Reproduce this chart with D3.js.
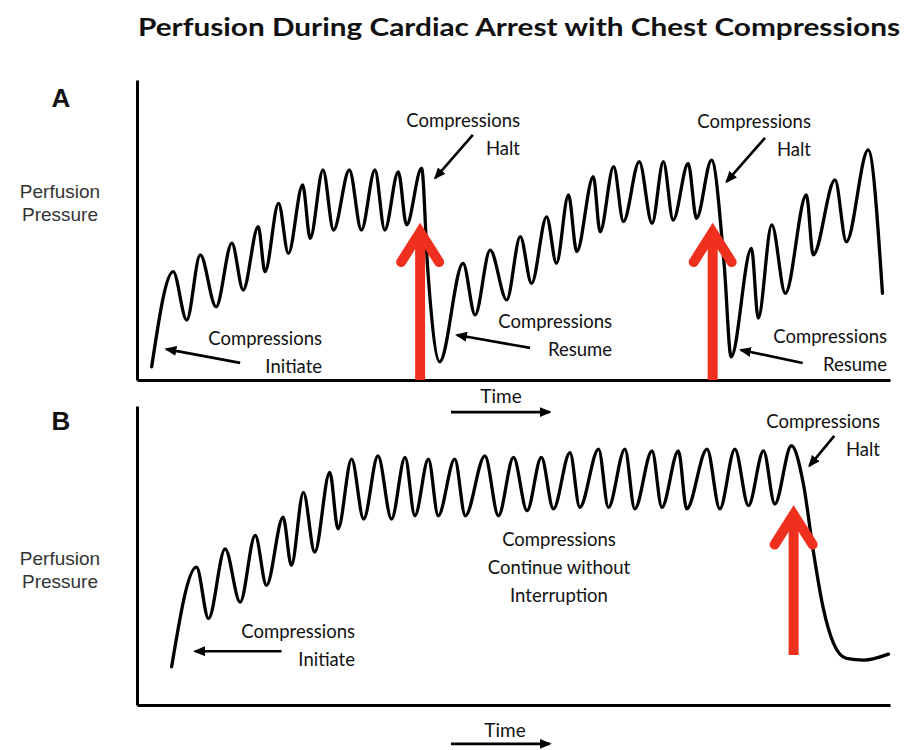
<!DOCTYPE html>
<html><head><meta charset="utf-8">
<script src="https://cdn.jsdelivr.net/npm/d3@7"></script>
<style>
html,body{margin:0;padding:0;background:#fff;}
svg{display:block;}
</style></head>
<body>
<svg id="chart" width="905" height="750"></svg>
<script>
// ---- Data (arbitrary time units 0-100, perfusion pressure 0-100) ----
const timeA = [1.95,4.8,6.6,8.4,10.5,12.6,14.1,16.1,17.0,18.8,20.1,22.0,23.0,24.7,26.1,28.2,29.8,31.6,32.9,34.7,35.8,37.8,38.6,40.2,43.3,44.9,46.9,49.1,50.9,52.4,54.4,55.7,57.3,58.4,60.6,61.5,63.3,64.6,66.7,68.4,69.9,71.2,73.2,74.3,76.3,78.0,78.9,81.6,82.5,84.3,86.1,88.9,89.8,92.7,94.2,97.1,99.0];
const pressureA = [4.4,36.1,20,41.7,24.4,45.6,30,51.1,36.1,58.9,42.2,65,47.2,70,50,70,50,70,50,69.4,51.7,70.6,37.3,6.1,38.9,21.7,43.3,26.7,47.8,32.2,54.4,38.9,61.7,42.8,67.8,49.4,71.1,52.8,72.8,52.2,72.8,53.3,72.2,53.9,73.3,37.7,7.7,43.9,20.6,51.7,28.9,61.7,41.7,66.7,46.1,76.7,28.9];
const timeB = [4.6,7.9,9.5,11.7,13.7,15.7,17.2,19.4,20.5,22.1,23.6,25.6,26.7,28.5,30.1,32.0,33.8,35.6,36.9,38.7,40.0,42.2,43.6,46.2,48.0,50.0,51.8,53.7,55.3,57.5,58.8,61.3,62.6,64.8,66.1,68.4,69.7,71.9,73.0,75.7,77.4,79.4,81.2,83.2,84.7,86.9,88.5,89.8,91.1,92.5,94.2,96.5,99.8];
const pressureB = [12.8,46.1,28.9,52.2,34.4,56.7,40,62.8,46.7,71.1,51.1,77.8,58.9,82.2,62.2,83.3,62.2,82.8,63.3,82.2,63.3,82.2,63.3,83.3,63.3,82.8,65,82.8,65.6,84.4,66.1,85.6,66.1,85.6,65.6,85,66.1,85,65.6,85.6,65.6,85.6,66.7,85,67.2,86.7,73.9,51.7,32.8,20.6,15.6,15,17];
// Compression halts (red arrows): time, arrow tip pressure, arrow base pressure
const haltTimeA = [37.6, 76.45];
const haltTipA = [49.3, 49.3];
const haltBaseA = [0, 0];
const haltTimeB = [87.2];
const haltTipB = [63.7];
const haltBaseB = [16.7];
// Text
const title = "Perfusion During Cardiac Arrest with Chest Compressions";
const panelLabels = ["A", "B"];
const yLabel = ["Perfusion", "Pressure"];
const xLabel = "Time";

// ---- Layout ----
const svg = d3.select("#chart");
const x = d3.scaleLinear().domain([0, 100]).range([137, 890]);
const yA = d3.scaleLinear().domain([0, 100]).range([380, 80]);
const yB = d3.scaleLinear().domain([0, 100]).range([705, 406]);
const RED = "#f0301f";
const annotFont = "Lato, 'Open Sans', sans-serif";

// arrow marker
const defs = svg.append("defs");
defs.append("marker").attr("id", "ah").attr("markerUnits", "userSpaceOnUse")
  .attr("viewBox", "0 0 12 10").attr("refX", 10).attr("refY", 5)
  .attr("markerWidth", 12).attr("markerHeight", 10).attr("orient", "auto")
  .append("path").attr("d", "M0,0 L12,5 L0,10 Z").attr("fill", "#000");

// title
svg.append("text").attr("x", 138).attr("y", 36)
  .attr("font-family", "Lato, 'Open Sans', sans-serif").attr("font-weight", "bold")
  .attr("font-size", 25).attr("textLength", 762).attr("lengthAdjust", "spacingAndGlyphs")
  .attr("fill", "#111").text(title);

function panel(y, times, pressures, haltT, haltTip, haltBase, labelY, letterY, perfY, timeLab, timeArrowP) {
  const g = svg.append("g");
  // axes (no ticks)
  g.append("g").attr("transform", `translate(0,${y(0)})`)
    .call(d3.axisBottom(x).tickValues([]).tickSizeOuter(0))
    .call(s => s.select(".domain").attr("stroke", "#000").attr("stroke-width", 3));
  g.append("g").attr("transform", `translate(${x(0)},0)`)
    .call(d3.axisLeft(y).tickValues([]).tickSizeOuter(0))
    .call(s => s.select(".domain").attr("stroke", "#000").attr("stroke-width", 3));
  // panel letter
  g.append("text").attr("x", 61).attr("y", letterY).attr("text-anchor", "middle")
    .attr("font-family", "'Liberation Sans', Arial, sans-serif").attr("font-weight", "bold")
    .attr("font-size", 26).attr("fill", "#111").text(labelY);
  // y label
  yLabel.forEach((t, i) => g.append("text").attr("x", 60).attr("y", perfY + i * 23)
    .attr("text-anchor", "middle").attr("font-family", "'Liberation Sans', Arial, sans-serif")
    .attr("font-size", 19).attr("fill", "#333").text(t));
  // waveform
  const pts = times.map((t, i) => [t, pressures[i]]);
  g.append("path").datum(pts)
    .attr("d", d3.line().x(d => x(d[0])).y(d => y(d[1])).curve(d3.curveMonotoneX))
    .attr("fill", "none").attr("stroke", "#000").attr("stroke-width", 3.3)
    .attr("stroke-linejoin", "round").attr("stroke-linecap", "round");
  // red arrows
  haltT.forEach((t, i) => {
    const cx = x(t), ty = y(haltTip[i]), by = y(haltBase[i]);
    g.append("line").attr("x1", cx).attr("x2", cx).attr("y1", by).attr("y2", ty + 4)
      .attr("stroke", RED).attr("stroke-width", 10);
    g.append("path").attr("d", `M${cx - 19},${ty + 30} L${cx},${ty} L${cx + 19},${ty + 30}`)
      .attr("fill", "none").attr("stroke", RED).attr("stroke-width", 10)
      .attr("stroke-linejoin", "miter").attr("stroke-linecap", "round");
  });
  // Time label + arrow
  g.append("text").attr("x", x(timeLab[0])).attr("y", y(timeLab[1])).attr("text-anchor", "middle")
    .attr("font-family", annotFont).attr("font-size", 19).attr("fill", "#111").text(xLabel);
  g.append("line").attr("x1", x(timeArrowP[0])).attr("x2", x(timeArrowP[1]))
    .attr("y1", y(timeArrowP[2])).attr("y2", y(timeArrowP[2]))
    .attr("stroke", "#000").attr("stroke-width", 2.6).attr("marker-end", "url(#ah)");
  return g;
}

const gA = panel(yA, timeA, pressureA, haltTimeA, haltTipA, haltBaseA, "A", 107, 198, [48.34, -7.7], [41.7, 54.8, -10.7]);
const gB = panel(yB, timeB, pressureB, haltTimeB, haltTipB, haltBaseB, "B", 430, 565, [48.87, -10.7], [41.7, 54.8, -13]);

// annotations: text lines anchored in data space, plus pointer arrows
const annotations = [
  {g: gA, y: yA, t: 50.86, p: 84.3, anchor: "end", lines: ["Compressions", "Halt"], arrow: [44.6, 81.7, 39.6, 67.3]},
  {g: gA, y: yA, t: 24.57, p: 11.7, anchor: "end", lines: ["Compressions", "Initiate"], arrow: [13.7, 5.7, 3.9, 10.3]},
  {g: gA, y: yA, t: 63.08, p: 17.3, anchor: "end", lines: ["Compressions", "Resume"], arrow: [52.2, 10.7, 42.5, 15]},
  {g: gA, y: yA, t: 89.5, p: 84.0, anchor: "end", lines: ["Compressions", "Halt"], arrow: [83.4, 80.7, 78.3, 66.1]},
  {g: gA, y: yA, t: 99.6, p: 12.3, anchor: "end", lines: ["Compressions", "Resume"], arrow: [88.4, 5.7, 80.2, 10]},
  {g: gB, y: yB, t: 28.95, p: 22.3, anchor: "end", lines: ["Compressions", "Initiate"], arrow: [19.2, 18, 7.7, 18]},
  {g: gB, y: yB, t: 56.04, p: 53.3, anchor: "middle", lines: ["Compressions", "Continue without", "Interruption"], arrow: null},
  {g: gB, y: yB, t: 98.67, p: 92.7, anchor: "end", lines: ["Compressions", "Halt"], arrow: [92.6, 90, 89.3, 80]}
];
annotations.forEach(a => {
  const t = a.g.append("text").attr("text-anchor", a.anchor)
    .attr("font-family", annotFont).attr("font-size", 18.5).attr("fill", "#111");
  a.lines.forEach((l, i) => t.append("tspan").attr("x", x(a.t)).attr("y", a.y(a.p) + i * 28).text(l));
  if (a.arrow) {
    a.g.append("line").attr("x1", x(a.arrow[0])).attr("y1", a.y(a.arrow[1]))
      .attr("x2", x(a.arrow[2])).attr("y2", a.y(a.arrow[3]))
      .attr("stroke", "#000").attr("stroke-width", 2.6).attr("marker-end", "url(#ah)");
  }
});
</script>
</body></html>
